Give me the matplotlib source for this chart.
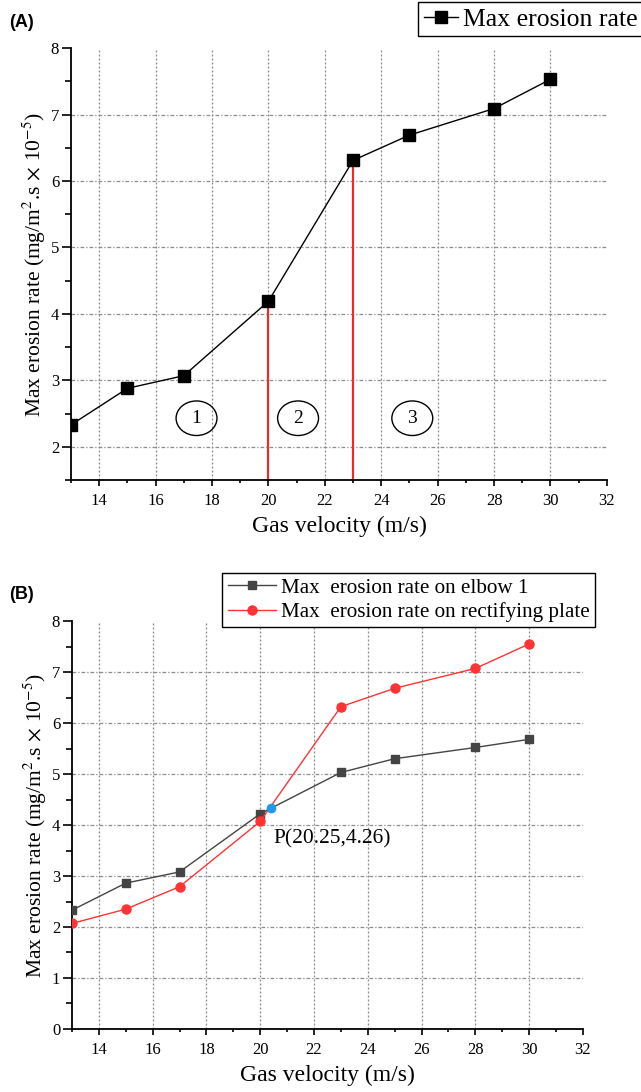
import numpy as np
import matplotlib.pyplot as plt
from matplotlib.patches import Ellipse
from matplotlib.ticker import MultipleLocator

plt.rcParams['font.family'] = ['Liberation Serif', 'DejaVu Serif']
plt.rcParams['mathtext.fontset'] = 'stix'

# data
velocity = [13, 15, 17, 20, 23, 25, 28, 30]
rate_a = [2.33, 2.88, 3.07, 4.19, 6.31, 6.69, 7.09, 7.53]
elbow_b = [2.33, 2.86, 3.08, 4.22, 5.03, 5.30, 5.52, 5.68]
plate_b = [2.07, 2.35, 2.79, 4.07, 6.32, 6.68, 7.07, 7.55]
split_v = [20, 23]
split_rate = [4.19, 6.31]
zone_names = ['1', '2', '3']
zone_v = [17.45, 21.05, 25.1]
zone_rate = [2.43, 2.43, 2.43]
cross_v = [20.4]
cross_rate = [4.33]
cross_label = 'P(20.25,4.26)'

ylab = r'Max erosion rate (mg/m$^2$.s$\,\times\,$10$^{-5}$)'
xlab = 'Gas velocity (m/s)'
grid_col = '#8c8c8c'


def style(ax, ylo, yhi):
    ax.set_xlim(13, 32)
    ax.set_ylim(ylo, yhi)
    ax.xaxis.set_major_locator(MultipleLocator(2))
    ax.xaxis.set_minor_locator(MultipleLocator(1))
    ax.yaxis.set_major_locator(MultipleLocator(1))
    ax.yaxis.set_minor_locator(MultipleLocator(0.5))
    for s in ['top', 'right']:
        ax.spines[s].set_visible(False)
    for s in ['left', 'bottom']:
        ax.spines[s].set_linewidth(1.3)
    ax.tick_params(axis='x', which='major', direction='out', length=4.5, width=1.2, labelsize=12, pad=5)
    ax.tick_params(axis='x', which='minor', direction='out', length=2.5, width=1.2)
    ax.tick_params(axis='y', which='major', direction='out', length=6.5, width=1.2, labelsize=12, pad=2)
    ax.tick_params(axis='y', which='minor', direction='out', length=4.3, width=1.2)
    # Origin-like grid, no lines at the axis ends
    gx = np.arange(14, 31, 2)
    gy = np.arange(np.floor(ylo) + 1, yhi)
    ax.vlines(gx, ylo, yhi, colors=grid_col, linestyles=[(0, (1.6, 1.6))], lw=0.9, zorder=0)
    ax.hlines(gy, 13, 32, colors=grid_col, linestyles=[(0, (3, 1.6, 1, 1.6))], lw=0.9, zorder=0)
    ax.set_xlabel(xlab, fontsize=17, labelpad=5)
    ax.set_ylabel(ylab, fontsize=15.5, labelpad=2)


fig = plt.figure(figsize=(6.41, 10.92), dpi=100)

# ---- (A)
ax1 = fig.add_axes([0.1108, 0.5604, 0.836, 0.3956])
style(ax1, 1.5, 8)
ax1.plot(velocity, rate_a, color='black', lw=1, marker='s', ms=8, label='Max erosion rate', zorder=3)
ax1.vlines(split_v, 1.5, split_rate, colors='#ff2222', lw=1.5, zorder=2)
for name, zx, zy in zip(zone_names, zone_v, zone_rate):
    ax1.add_patch(Ellipse((zx, zy), width=1.45, height=0.52, fill=False, ec='black', lw=1))
    ax1.text(zx, zy, name, ha='center', va='center', fontsize=14)
ax1.legend(loc='upper right', bbox_to_anchor=(1.003, 0.998), bbox_transform=fig.transFigure,
           fontsize=18.5, frameon=True, fancybox=False, edgecolor='black', framealpha=1,
           handlelength=1.3, handletextpad=0.2, borderpad=0.22, borderaxespad=0)
ax1.get_legend().get_frame().set_linewidth(1.0)
fig.text(0.015, 0.979, '(A)', fontsize=13, fontweight='bold', family='Liberation Sans', va='center')

# ---- (B)
ax2 = fig.add_axes([0.1123, 0.0577, 0.797, 0.3736])
style(ax2, 0, 8)
ax2.plot(velocity, elbow_b, color='#444444', lw=1, marker='s', ms=6,
         label='Max  erosion rate on elbow 1', zorder=3)
ax2.plot(velocity, plate_b, color='#ff3333', lw=1, marker='o', ms=6.5,
         label='Max  erosion rate on rectifying plate', zorder=3)
ax2.plot(cross_v, cross_rate, ls='none', marker='o', ms=6, color='#1e9be8', zorder=4)
ax2.text(20.48, 3.73, cross_label, fontsize=15.5, ha='left', va='center')
ax2.legend(loc='upper right', bbox_to_anchor=(0.929, 0.4755), bbox_transform=fig.transFigure,
           fontsize=15.2, frameon=True, fancybox=False, edgecolor='black', framealpha=1,
           handlelength=2.3, handletextpad=0.25, borderpad=0.25, labelspacing=0.2, borderaxespad=0)
ax2.get_legend().get_frame().set_linewidth(1.0)
fig.text(0.015, 0.456, '(B)', fontsize=13, fontweight='bold', family='Liberation Sans', va='center')

fig.savefig('out.png', dpi=100)
